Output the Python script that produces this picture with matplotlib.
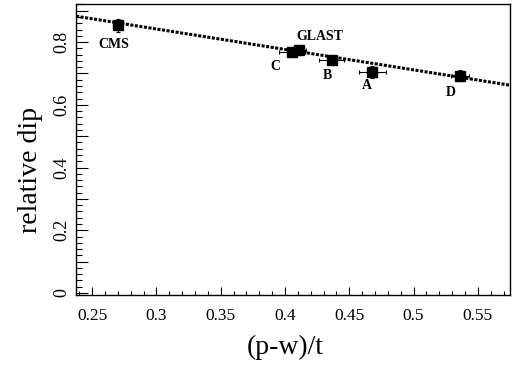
"""Relative dip vs (p-w)/t with linear fit."""
import matplotlib
matplotlib.use("Agg")
import matplotlib.pyplot as plt
from matplotlib.ticker import MultipleLocator, FuncFormatter
import numpy as np

# data
names = ["CMS", "C", "GLAST", "B", "A", "D"]
x_val = [0.270, 0.4053, 0.4112, 0.4364, 0.468, 0.5365]
y_val = [0.853, 0.770, 0.774, 0.742, 0.7056, 0.693]
x_err = [0.0035, 0.010, 0.005, 0.0096, 0.0102, 0.007]
y_err = [0.020, 0.006, 0.006, 0.006, 0.019, 0.017]

# linear fit y = a + b*x
fit_a = 1.0375
fit_b = -0.652

# label offsets (points) relative to each data point
label_dx = [-3, -12, 15, -3, -4, -7]
label_dy = [-14, -11, 10, -11, -10, -12]

plt.rcParams["font.family"] = ["Liberation Serif", "DejaVu Serif"]

fig = plt.figure(figsize=(5.15, 3.68), dpi=100)
ax = fig.add_axes([0.1476, 0.1997, 0.8427, 0.7881])

xs = np.linspace(0.2375, 0.575, 2)
ax.plot(xs, fit_a + fit_b * xs, color="black", linestyle=(0, (1, 0.5)), linewidth=2.2)

ax.errorbar(x_val, y_val, xerr=x_err, yerr=y_err, fmt="s", color="black",
            markersize=6.5, elinewidth=0.8, capsize=1.5, capthick=0.8)

for n, x, y, dx, dy in zip(names, x_val, y_val, label_dx, label_dy):
    ax.annotate(n, (x, y), xytext=(dx, dy), textcoords="offset points",
                ha="center", va="center", fontsize=10, fontweight="bold")

ax.set_xlim(0.2375, 0.575)
ax.set_ylim(-0.005, 0.92)

ax.xaxis.set_major_locator(MultipleLocator(0.05))
ax.xaxis.set_minor_locator(MultipleLocator(0.01))
ax.xaxis.set_major_formatter(FuncFormatter(lambda v, p: f"{v:g}"))
ax.yaxis.set_major_locator(MultipleLocator(0.1))
ax.yaxis.set_minor_locator(MultipleLocator(0.02))
ax.yaxis.set_major_formatter(
    FuncFormatter(lambda v, p: f"{v:g}" if abs(round(v * 10) % 2) == 0 else ""))

ax.tick_params(which="both", direction="in", top=False, right=False,
               width=0.8, labelsize=12.5)
ax.tick_params(axis="x", which="major", length=6, pad=10)
ax.tick_params(axis="x", which="minor", length=3)
ax.tick_params(axis="y", which="major", length=8.5, pad=4)
ax.tick_params(axis="y", which="minor", length=4.3)
ax.tick_params(axis="y", labelsize=13)
for lab in ax.get_yticklabels():
    lab.set_rotation(90)
    lab.set_va("center")

for s in ax.spines.values():
    s.set_linewidth(1.0)

ax.set_xlabel("(p-w)/t", fontsize=20, va="center")
ax.set_ylabel("relative dip", fontsize=20, va="center")
ax.xaxis.set_label_coords(0.483, -0.184)
ax.yaxis.set_label_coords(-0.104, 0.43)

fig.savefig("out.png", dpi=100)
